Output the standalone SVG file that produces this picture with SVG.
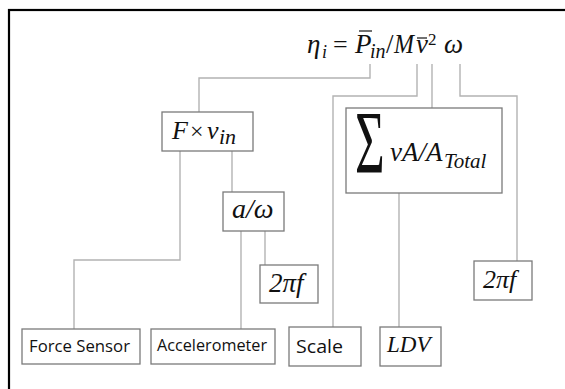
<svg xmlns="http://www.w3.org/2000/svg" width="565" height="389" viewBox="0 0 565 389">
<style>
.box{fill:#fff;stroke:#7a7a7a;stroke-width:1.3}
.ln{fill:none;stroke:#b3b3b3;stroke-width:1.4}
.m{font-family:"Liberation Serif","DejaVu Serif",serif;font-style:italic;fill:#111}
.r{font-family:"Liberation Serif","DejaVu Serif",serif;fill:#111}
.s{font-family:"Open Sans","Liberation Sans",sans-serif;fill:#111}
.bar{stroke:#111;stroke-width:1.2}
</style>
<rect x="0" y="0" width="565" height="389" fill="#fff"/>
<rect x="9" y="10" width="600" height="420" fill="none" stroke="#000" stroke-width="2.2"/>

<g id="title">
<text class="m" x="307" y="53" font-size="27">η</text>
<text class="m" x="322" y="58" font-size="18">i</text>
<text class="r" x="333" y="53" font-size="26">=</text>
<text class="m" x="355" y="53" font-size="27">P</text>
<line class="bar" x1="359" y1="31" x2="372" y2="31"/>
<text class="m" x="370" y="58" font-size="20">in</text>
<text class="r" x="386" y="53" font-size="27">/</text>
<text class="m" x="394" y="53" font-size="27" textLength="20" lengthAdjust="spacingAndGlyphs">M</text>
<text class="m" x="416" y="53" font-size="27">v</text>
<line class="bar" x1="417" y1="38" x2="427" y2="38"/>
<text class="r" x="428" y="45" font-size="17">2</text>
<text class="m" x="444" y="53" font-size="27">ω</text>
</g>

<g id="connectors">
<polyline class="ln" points="370,64 370,78 199,78 199,112"/>
<polyline class="ln" points="417,64 417,96 333,96 333,327"/>
<polyline class="ln" points="432,64 432,108"/>
<polyline class="ln" points="460,64 460,96 517,96 517,261"/>
<polyline class="ln" points="180,151 180,260 74,260 74,329"/>
<polyline class="ln" points="232,151 232,192"/>
<polyline class="ln" points="241,231 241,329"/>
<polyline class="ln" points="265,231 265,265"/>
<polyline class="ln" points="399,193 399,327"/>
</g>

<g id="fxv">
<rect class="box" x="162" y="112" width="91" height="39"/>
<text class="m" x="172" y="139" font-size="26">F</text>
<text class="r" x="190" y="139" font-size="24">×</text>
<text class="m" x="207" y="139" font-size="26">v</text>
<text class="m" x="219" y="144" font-size="22">in</text>
</g>

<g id="sum">
<rect class="box" x="346" y="108" width="156" height="85"/>
<text class="r" font-size="60" transform="translate(355,172) scale(0.85,1.48)">Σ</text>
<text class="m" x="390" y="161" font-size="27">vA/A</text>
<text class="m" x="444" y="168" font-size="21">Total</text>
</g>

<g id="aw">
<rect class="box" x="223" y="192" width="61" height="39"/>
<text class="m" x="232" y="218" font-size="28">a/ω</text>
</g>

<g id="f2pi1">
<rect class="box" x="260" y="265" width="58" height="38"/>
<text class="m" x="269" y="292" font-size="27">2πf</text>
</g>

<g id="f2pi2">
<rect class="box" x="474" y="261" width="58" height="39"/>
<text class="m" x="483" y="288" font-size="26">2πf</text>
</g>

<g id="force">
<rect class="box" x="22" y="329" width="118" height="35"/>
<text class="s" x="29" y="352" font-size="16" textLength="101" lengthAdjust="spacingAndGlyphs">Force Sensor</text>
</g>

<g id="accel">
<rect class="box" x="151" y="329" width="124" height="35"/>
<text class="s" x="157" y="351" font-size="16" textLength="110" lengthAdjust="spacingAndGlyphs">Accelerometer</text>
</g>

<g id="scale">
<rect class="box" x="289" y="327" width="72" height="39"/>
<text class="s" x="296" y="353" font-size="19" textLength="47" lengthAdjust="spacingAndGlyphs">Scale</text>
</g>

<g id="ldv">
<rect class="box" x="380" y="327" width="61" height="39"/>
<text class="m" x="387" y="352" font-size="23">LDV</text>
</g>
</svg>
